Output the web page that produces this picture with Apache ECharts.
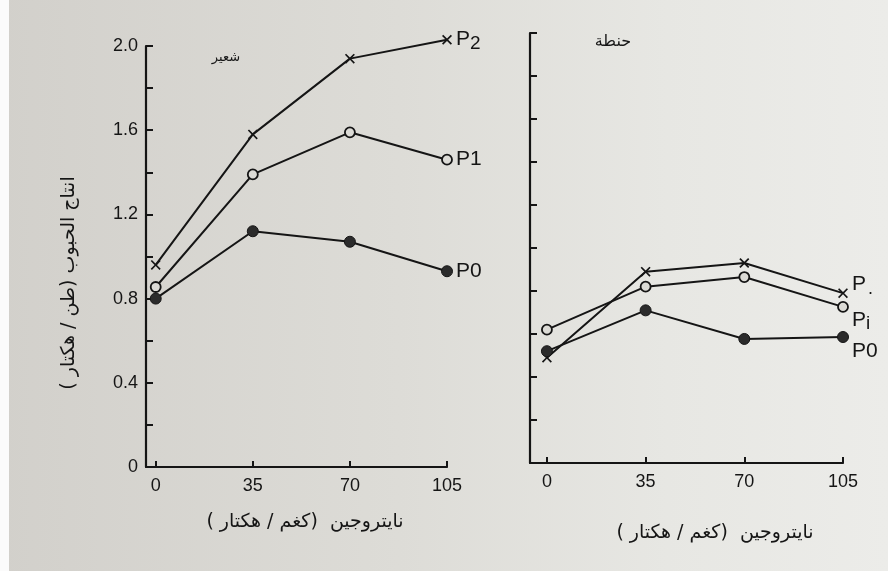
<!DOCTYPE html>
<html>
<head>
<meta charset="utf-8">
<script src="https://cdn.jsdelivr.net/npm/echarts@6/dist/echarts.min.js"></script>
<style>
html,body{margin:0;padding:0;}
#wrap{position:relative;width:888px;height:571px;background:linear-gradient(90deg,#d2d0cb 0%,#dddcd7 45%,#e7e7e3 75%,#ecece9 100%);}
#strip{position:absolute;left:0;top:0;width:9px;height:571px;background:#fbfbfb;}
#chart{position:absolute;left:0;top:0;width:888px;height:571px;}
</style>
</head>
<body>
<div id="wrap"><div id="strip"></div><div id="chart"></div></div>
<script>
// nitrogen levels (kg / ha)
const nitrogen = [0, 35, 70, 105];
const xTickLabels = [0, 35, 70, 105];
const yTickLabels = [0, 0.4, 0.8, 1.2, 1.6, 2.0];

// Barley (شعير) grain yield, t/ha
const barleyP2 = [0.96, 1.58, 1.94, 2.03];
const barleyP1 = [0.855, 1.39, 1.59, 1.46];
const barleyP0 = [0.80, 1.12, 1.07, 0.93];

// Wheat (حنطة) grain yield, t/ha
const wheatP2 = [0.49, 0.89, 0.93, 0.79];
const wheatP1 = [0.62, 0.82, 0.865, 0.726];
const wheatP0 = [0.52, 0.71, 0.577, 0.586];

const barleyNames = ['P{s|2}', 'P1', 'P0'];
const wheatNames = ['P{d|.}', 'P{s|i}', 'P0'];

const INK = '#151515';
const PAPER = '#dcdbd6';
const xMark = 'path://M0,1.2 L1.2,0 L5,3.8 L8.8,0 L10,1.2 L6.2,5 L10,8.8 L8.8,10 L5,6.2 L1.2,10 L0,8.8 L3.8,5 Z';

function pairs(vals){ return nitrogen.map((n,i)=>[n, vals[i]]); }

const fontNum = '"Liberation Sans", "DejaVu Sans", sans-serif';
const fontAr = '"DejaVu Sans", "Noto Sans", sans-serif';

function mkSeries(vals, kind, gridIdx, name, dy){
  const s = {
    type: 'line',
    xAxisIndex: gridIdx, yAxisIndex: gridIdx,
    data: pairs(vals),
    clip: false,
    animation: false,
    lineStyle: {color: INK, width: 2},
    endLabel: {
      show: true, formatter: name, distance: 9, offset: [0, dy],
      color: INK, fontSize: 21, fontFamily: fontNum,
      rich: {
        s: {fontSize: 19, fontFamily: fontNum, color: INK, verticalAlign: 'bottom', padding: [8,0,0,0]},
        d: {fontSize: 18, fontFamily: fontNum, color: INK, padding: [10,0,0,2]}
      }
    },
    z: 3
  };
  if (kind === 'x'){
    s.symbol = xMark; s.symbolSize = 10; s.itemStyle = {color: INK};
  } else if (kind === 'open'){
    s.symbol = 'circle'; s.symbolSize = 10; s.itemStyle = {color: PAPER, borderColor: INK, borderWidth: 1.8};
  } else {
    s.symbol = 'circle'; s.symbolSize = 11; s.itemStyle = {color: '#2b2b2b', borderColor: INK, borderWidth: 1};
  }
  return s;
}

function xAxisFor(gridIdx, min){
  return {
    type: 'value', gridIndex: gridIdx, min: min, max: 105,
    axisLine: {show: true, onZero: false, lineStyle: {color: INK, width: 2.2}},
    axisTick: {show: true, inside: true, length: 6, lineStyle: {color: INK, width: 2}, customValues: xTickLabels},
    axisLabel: {show: true, customValues: xTickLabels, margin: 10, color: INK, fontSize: 18, fontFamily: fontNum},
    splitLine: {show: false}
  };
}
function yAxisFor(gridIdx, labels){
  return {
    type: 'value', gridIndex: gridIdx, min: 0, max: 2.0, interval: 0.2,
    axisLine: {show: true, onZero: false, lineStyle: {color: INK, width: 2.2}},
    axisTick: {show: true, inside: true, length: 7, lineStyle: {color: INK, width: 2}},
    axisLabel: labels ? {
      show: true, customValues: yTickLabels, margin: 8, color: INK, fontSize: 18, fontFamily: fontNum,
      formatter: v => (Math.abs(v) < 1e-9 ? '0' : v.toFixed(1))
    } : {show: false},
    splitLine: {show: false}
  };
}

const chart = echarts.init(document.getElementById('chart'), null, {renderer: 'canvas'});
chart.setOption({
  backgroundColor: 'transparent',
  animation: false,
  grid: [
    {left: 146, top: 46, width: 301, height: 421},
    {left: 530, top: 33, width: 313, height: 430}
  ],
  xAxis: [xAxisFor(0, -3.5), xAxisFor(1, -6)],
  yAxis: [yAxisFor(0, true), yAxisFor(1, false)],
  series: [
    mkSeries(barleyP2, 'x', 0, barleyNames[0], 0),
    mkSeries(barleyP1, 'open', 0, barleyNames[1], 0),
    mkSeries(barleyP0, 'fill', 0, barleyNames[2], 0),
    mkSeries(wheatP2, 'x', 1, wheatNames[0], -9),
    mkSeries(wheatP1, 'open', 1, wheatNames[1], 13),
    mkSeries(wheatP0, 'fill', 1, wheatNames[2], 14)
  ],
  graphic: [
    {type: 'text', x: 226, y: 58, style: {text: 'شعير', fontSize: 13, fontFamily: fontAr, fill: INK, align: 'center', verticalAlign: 'middle'}},
    {type: 'text', x: 613, y: 42, style: {text: 'حنطة', fontSize: 16, fontFamily: fontAr, fill: INK, align: 'center', verticalAlign: 'middle'}},
    {type: 'text', x: 69, y: 283, rotation: Math.PI / 2, style: {text: 'انتاج الحبوب (طن / هكتار )', fontSize: 19, fontFamily: fontAr, fill: INK, align: 'center', verticalAlign: 'middle'}},
    {type: 'text', x: 305, y: 522, style: {text: 'نايتروجين  (كغم / هكتار )', fontSize: 19, fontFamily: fontAr, fill: INK, align: 'center', verticalAlign: 'middle'}},
    {type: 'text', x: 715, y: 533, style: {text: 'نايتروجين  (كغم / هكتار )', fontSize: 19, fontFamily: fontAr, fill: INK, align: 'center', verticalAlign: 'middle'}}
  ]
});
</script>
</body>
</html>
